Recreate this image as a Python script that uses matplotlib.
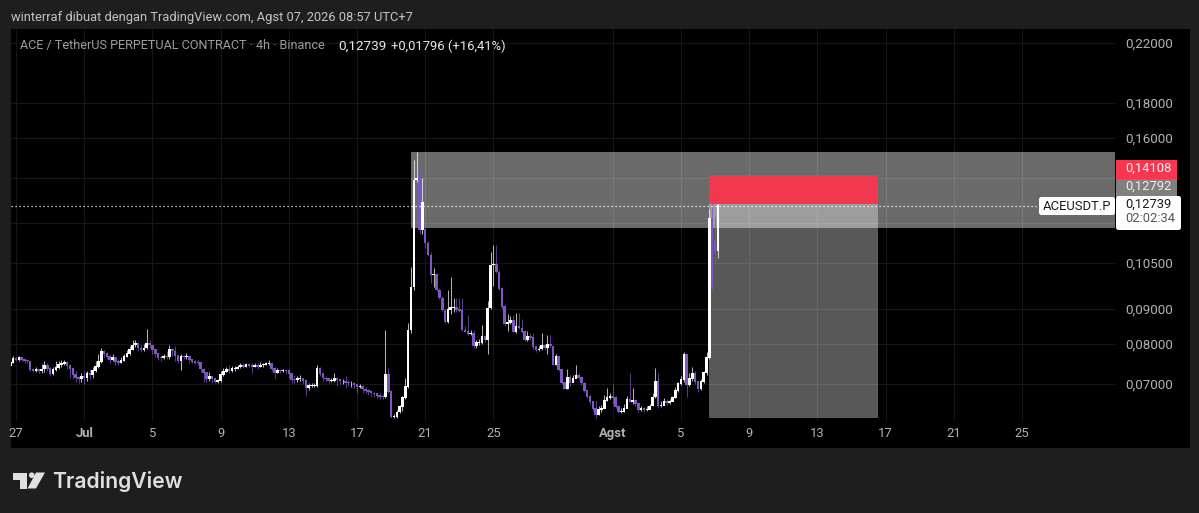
import numpy as np
import matplotlib
matplotlib.use("Agg")
import matplotlib.pyplot as plt
from matplotlib.patches import Rectangle, Polygon, Circle, FancyBboxPatch

plt.rcParams['font.family'] = ['Roboto', 'DejaVu Sans']

# 4h candles
closes = [
    .0752, .0762, .0760, .0765, .0760, .0757, .0756, .0735, .0733, .0735,
    .0733, .0736, .0745, .0738, .0725, .0735, .0740, .0748, .0750, .0752,
    .0745, .0738, .0722, .0715, .0712, .0718, .0715, .0725, .0722, .0732,
    .0742, .0755, .0780, .0775, .0768, .0760, .0765, .0755, .0752, .0757,
    .0768, .0775, .0785, .0798, .0802, .0790, .0785, .0790, .0802, .0798,
    .0785, .0775, .0765, .0764, .0768, .0766, .0785, .0782, .0770, .0758,
    .0768, .0766, .0769, .0759, .0755, .0753, .0752, .0736, .0728, .0712,
    .0717, .0712, .0706, .0708, .0722, .0730, .0736, .0732, .0737, .0737,
    .0741, .0744, .0742, .0747, .0744, .0743, .0745, .0742, .0746, .0748,
    .0750, .0751, .0738, .0727, .0733, .0731, .0733, .0732, .0725, .0711,
    .0710, .0712, .0713, .0708, .0692, .0696, .0697, .0697, .0737, .0725,
    .0714, .0712, .0708, .0709, .0712, .0711, .0707, .0707, .0704, .0702,
    .0702, .0699, .0694, .0695, .0688, .0685, .0682, .0679, .0677, .0674,
    .0672, .0670, .0722, .0682, .0627, .0628, .0637, .0648, .0668, .0693,
    .0839, .0969, .1389, .1395, .1176, .1290, .1124, .1080, .1009, .1010,
    .0960, .0934, .0897, .0862, .0898, .0905, .0905, .0898, .0895, .0839,
    .0835, .0830, .0830, .0795, .0805, .0805, .0822, .0812, .0903, .1044,
    .1045, .1020, .0965, .0908, .0858, .0860, .0868, .0835, .0850, .0845,
    .0834, .0812, .0820, .0818, .0793, .0785, .0787, .0797, .0790, .0800,
    .0795, .0748, .0768, .0735, .0703, .0690, .0716, .0703, .0712, .0721,
    .0716, .0702, .0685, .0672, .0660, .0645, .0632, .0643, .0645, .0662,
    .0668, .0672, .0668, .0648, .0637, .0638, .0645, .0665, .0660, .0662,
    .0655, .0642, .0645, .0642, .0643, .0650, .0670, .0705, .0652, .0652,
    .0660, .0657, .0660, .0668, .0685, .0700, .0710, .0772, .0698, .0712,
    .0725, .0705, .0690, .0705, .0727, .0764, .1223, .0969, .1094, .12739,
]
highs = [
    .0760, .0768, .0766, .0770, .0765, .0760, .0760, .0757, .0738, .0740,
    .0737, .0748, .0755, .0750, .0740, .0742, .0755, .0757, .0758, .0758,
    .0757, .0747, .0740, .0730, .0720, .0725, .0730, .0732, .0735, .0740,
    .0755, .0775, .0790, .0785, .0780, .0772, .0775, .0765, .0762, .0765,
    .0775, .0785, .0795, .0810, .0812, .0805, .0797, .0800, .0842, .0810,
    .0795, .0782, .0772, .0772, .0775, .0782, .0797, .0790, .0795, .0770,
    .0775, .0772, .0777, .0770, .0760, .0758, .0758, .0752, .0738, .0725,
    .0728, .0718, .0712, .0712, .0732, .0738, .0742, .0745, .0744, .0743,
    .0746, .0750, .0752, .0752, .0750, .0750, .0750, .0750, .0753, .0752,
    .0754, .0758, .0752, .0740, .0738, .0737, .0737, .0737, .0735, .0725,
    .0722, .0720, .0722, .0712, .0708, .0702, .0702, .0702, .0745, .0740,
    .0725, .0718, .0714, .0714, .0725, .0716, .0712, .0712, .0718, .0710,
    .0708, .0705, .0700, .0700, .0697, .0692, .0688, .0686, .0682, .0680,
    .0678, .0676, .0839, .0739, .0685, .0632, .0642, .0652, .0672, .0714,
    .0860, .1035, .1485, .1525, .1445, .1398, .1180, .1130, .1090, .1033,
    .1015, .0965, .0940, .0900, .0960, .1001, .0934, .0935, .0933, .0933,
    .0850, .0881, .0838, .0840, .0812, .0815, .0852, .0825, .0925, .1090,
    .1116, .1116, .1025, .0968, .0912, .0885, .0880, .0882, .0888, .0888,
    .0870, .0838, .0835, .0830, .0831, .0795, .0795, .0830, .0800, .0825,
    .0825, .0795, .0775, .0768, .0735, .0705, .0735, .0722, .0722, .0745,
    .0725, .0718, .0705, .0686, .0675, .0662, .0660, .0650, .0652, .0675,
    .0691, .0680, .0700, .0672, .0652, .0645, .0655, .0672, .0727, .0690,
    .0665, .0658, .0650, .0648, .0650, .0655, .0680, .0739, .0727, .0662,
    .0668, .0665, .0665, .0673, .0692, .0705, .0720, .0778, .0775, .0725,
    .0740, .0730, .0708, .0712, .0732, .0780, .1260, .1366, .1225, .1290,
]
lows = [
    .0735, .0750, .0755, .0757, .0756, .0752, .0750, .0730, .0728, .0728,
    .0727, .0725, .0728, .0730, .0720, .0722, .0730, .0735, .0742, .0745,
    .0735, .0715, .0712, .0705, .0702, .0705, .0700, .0708, .0712, .0715,
    .0728, .0738, .0752, .0765, .0760, .0752, .0755, .0745, .0745, .0750,
    .0755, .0765, .0772, .0785, .0792, .0782, .0778, .0782, .0788, .0790,
    .0775, .0765, .0758, .0757, .0762, .0760, .0762, .0768, .0755, .0750,
    .0734, .0760, .0760, .0752, .0750, .0748, .0745, .0728, .0705, .0705,
    .0708, .0703, .0701, .0702, .0705, .0718, .0728, .0726, .0728, .0732,
    .0736, .0738, .0738, .0740, .0740, .0725, .0740, .0736, .0740, .0742,
    .0745, .0746, .0730, .0715, .0725, .0725, .0728, .0726, .0715, .0703,
    .0703, .0704, .0708, .0700, .0672, .0685, .0692, .0692, .0692, .0720,
    .0708, .0707, .0703, .0704, .0705, .0695, .0700, .0700, .0690, .0696,
    .0692, .0690, .0680, .0690, .0678, .0680, .0675, .0672, .0670, .0668,
    .0666, .0665, .0668, .0678, .0625, .0625, .0625, .0635, .0640, .0665,
    .0690, .0830, .0960, .1380, .1160, .1160, .1105, .1075, .0983, .0969,
    .0955, .0930, .0893, .0858, .0860, .0885, .0890, .0892, .0890, .0835,
    .0832, .0826, .0826, .0790, .0790, .0798, .0800, .0805, .0775, .0900,
    .0973, .1015, .0960, .0900, .0850, .0835, .0855, .0832, .0830, .0842,
    .0830, .0808, .0808, .0812, .0788, .0780, .0782, .0785, .0785, .0775,
    .0790, .0745, .0745, .0730, .0700, .0688, .0688, .0695, .0705, .0715,
    .0712, .0698, .0682, .0668, .0655, .0640, .0625, .0630, .0637, .0645,
    .0660, .0665, .0655, .0645, .0635, .0635, .0638, .0645, .0658, .0655,
    .0650, .0638, .0640, .0638, .0640, .0645, .0650, .0668, .0645, .0648,
    .0652, .0652, .0655, .0660, .0668, .0682, .0698, .0705, .0670, .0695,
    .0708, .0700, .0682, .0685, .0702, .0722, .0760, .0960, .1044, .1069,
]
first_open = .0745
open_gaps = {146: .1176, 248: .1130}

# days since Jun 27 for the axis labels
tick_days = [0, 4, 8, 12, 16, 20, 24, 28, 35, 39, 43, 47, 51, 55, 59]
tick_labels = ['27', 'Jul', '5', '9', '13', '17', '21', '25', 'Agst', '5', '9', '13', '17', '21', '25']
bold_ticks = ['Jul', 'Agst']
price_ticks = [.22, .18, .16, .14, .12, .105, .09, .08, .07]
price_labels = ['0,22000', '0,18000', '0,16000', '', '', '0,10500', '0,09000', '0,08000', '0,07000']

last_price = .12739
stop_price = .14108
entry_price = .12792
target_price = .0624
zone_top = .1526
zone_bottom = .1182
zone_start, tool_start, tool_end = 23.17, 40.65, 50.56

W, H = 1199, 513
UP = '#ffffff'
DOWN = '#7e57c2'


def fx(px):
    return px / W


def fy(py):
    return 1 - py / H


fig = plt.figure(figsize=(W / 100, H / 100), dpi=100, facecolor='#1e1e1e')
fig.patches.append(Rectangle((fx(11), fy(448)), fx(1179), 419 / H, transform=fig.transFigure,
                             facecolor='black', edgecolor='none', zorder=-5))

ax = fig.add_axes([fx(11), fy(421), fx(1104), 392 / H])
ax.patch.set_alpha(0)
for s in ax.spines.values():
    s.set_visible(False)

# candles
n = len(closes)
days = (np.arange(n) - 2) / 6
opens = [first_open] + closes[:-1]
for i, v in open_gaps.items():
    opens[i] = v
opens = np.array(opens)
closes = np.array(closes)
is_up = closes >= opens
colors = [UP if u else DOWN for u in is_up]

ax.set_yscale('log')
ax.set_xlim((11 - 16) / 17.05, (1115 - 16) / 17.05)
ax.set_ylim(.0618, .2306)

ax.vlines(days, lows, highs, colors=colors, linewidth=0.75, alpha=0.7, zorder=5)
ax.bar(days, np.abs(closes - opens) + .0002, bottom=np.minimum(opens, closes) - .0001, width=0.15,
       color=colors, linewidth=0, zorder=6)

# drawn zones
xmax = ax.get_xlim()[1]
ax.add_patch(Rectangle((zone_start, zone_bottom), xmax - zone_start, zone_top - zone_bottom,
                       facecolor='white', alpha=0.42, edgecolor='none', zorder=2))
ax.add_patch(Rectangle((tool_start, target_price), tool_end - tool_start, entry_price - target_price,
                       facecolor='white', alpha=0.35, edgecolor='none', zorder=3))
ax.add_patch(Rectangle((tool_start, entry_price), tool_end - tool_start, stop_price - entry_price,
                       facecolor='#f7374f', edgecolor='none', zorder=7, alpha=0.97))

ax.plot([ax.get_xlim()[0], (1040 - 16) / 17.05], [last_price, last_price], color='white', lw=0.9,
        dashes=(1, 2.2), zorder=8)

# axes
ax.yaxis.tick_right()
ax.set_yticks(price_ticks)
ax.set_yticklabels(price_labels)
ax.minorticks_off()
ax.tick_params(axis='y', length=0, pad=7.2, labelsize=9.6, labelcolor='#b2b2b2')
ax.set_xticks(tick_days)
ax.set_xticklabels(tick_labels)
ax.tick_params(axis='x', length=0, pad=4.6, labelsize=9.4, labelcolor='#b2b2b2')
for lab in ax.get_xticklabels():
    if lab.get_text() in bold_ticks:
        lab.set_fontweight('bold')
ax.grid(True, color='#171717', linewidth=0.8, zorder=0)
ax.set_axisbelow(True)

# header
fig.text(fx(11), fy(17), 'winterraf dibuat dengan TradingView.com, Agst 07, 2026 08:57 UTC+7',
         color='#c4c4c4', fontsize=9.25, va='center')
fig.text(fx(20), fy(46), 'ACE / TetherUS PERPETUAL CONTRACT · 4h · Binance', color='#9c9c9c', fontsize=9.1, va='center')
fig.text(fx(338), fy(46), '0,12739', color='#e8e8e8', fontsize=9.7, va='center')
fig.text(fx(391), fy(46), '+0,01796 (+16,41%)', color='#e8e8e8', fontsize=9.4, va='center')


# price labels on the right
def box(x0, y0, x1, y1, color, rounded=False):
    if rounded:
        p = FancyBboxPatch((x0, H - y1), x1 - x0, y1 - y0, boxstyle='round,pad=0,rounding_size=2.5',
                           facecolor=color, edgecolor='none', transform=None, zorder=20)
    else:
        p = Rectangle((x0, H - y1), x1 - x0, y1 - y0, facecolor=color, edgecolor='none', transform=None, zorder=20)
    fig.add_artist(p)


def label(px, py, s, color, size=9.4):
    fig.text(fx(px), fy(py), s, color=color, fontsize=size, va='center', zorder=25)


box(1116, 160, 1177, 179, '#f7374f')
label(1125, 168, '0,14108', '#f8f0f0')
box(1116, 179, 1177, 197, '#808080')
label(1125, 186, '0,12792', '#f0f0f0')
box(1116, 196, 1181, 230, 'white', rounded=True)
label(1125, 204, '0,12739', '#1a1a1a')
label(1125, 219, '02:02:34', '#555555')
box(1039, 197, 1115, 215, 'white', rounded=True)
label(1043, 206, 'ACEUSDT.P', '#1a1a1a')

# logo
logo = '#e0e0e0'
fig.add_artist(Polygon([(13, H - 472.5), (27, H - 472.5), (27, H - 488.5), (19.5, H - 488.5),
                        (19.5, H - 479.5), (13, H - 479.5)], closed=True, facecolor=logo, edgecolor='none', transform=None))
fig.add_artist(Circle((31.7, H - 475.2), 2.8, facecolor=logo, edgecolor='none', transform=None))
fig.add_artist(Polygon([(36, H - 472.5), (45, H - 472.5), (36, H - 488.5), (27.5, H - 488.5)],
                       closed=True, facecolor=logo, edgecolor='none', transform=None))
fig.text(fx(52), fy(481), 'TradingView', color=logo, fontsize=15.2, fontweight='semibold', family='Inter', va='center')

fig.savefig('out.png', dpi=100, facecolor=fig.get_facecolor())
